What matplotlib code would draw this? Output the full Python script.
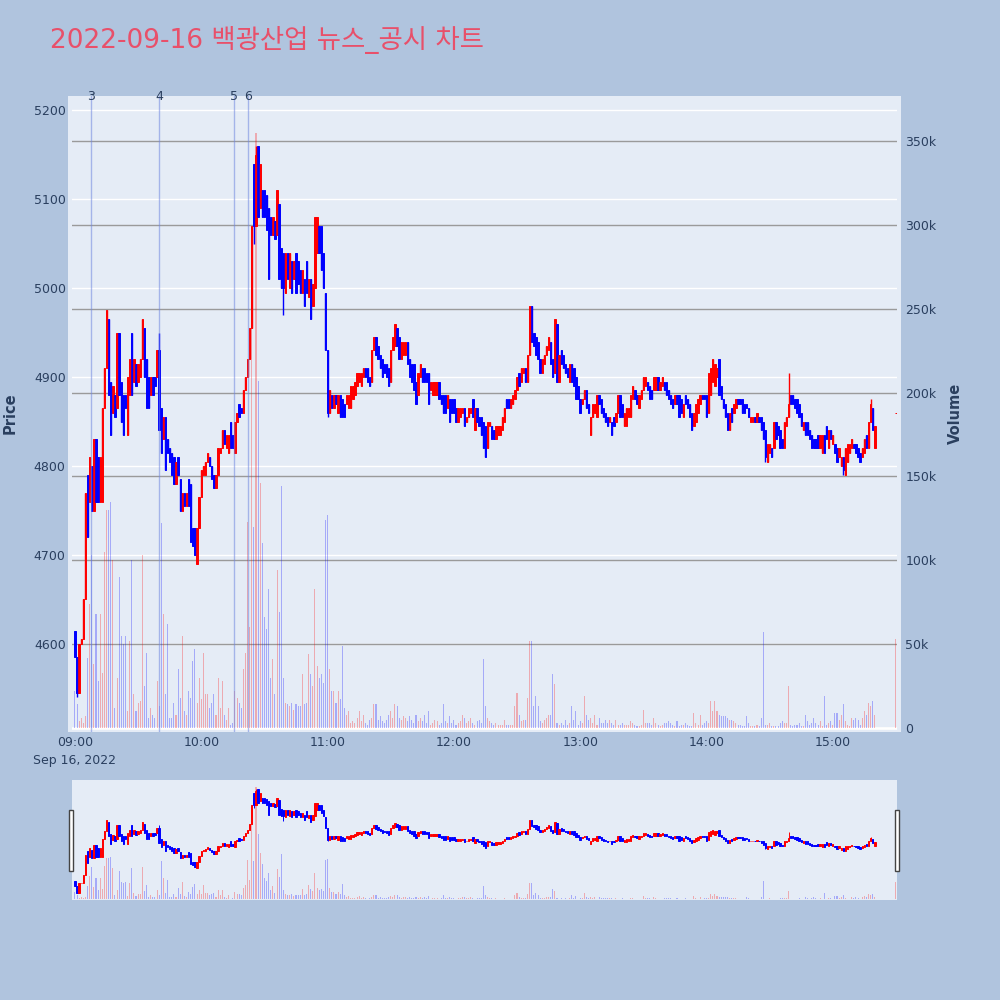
import matplotlib
matplotlib.use("Agg")
import matplotlib.pyplot as plt
from matplotlib.patches import Rectangle

plt.rcParams['font.family'] = ['DejaVu Sans', 'Noto Sans CJK KR']

# 1분봉: 09:00 ~ 15:20 + 15:30 종가 단일가
minutes = list(range(381)) + [390]

opens = [
    # 09:00 ~ 10:04
    4615, 4585, 4545, 4600, 4605, 4650, 4790, 4760, 4800, 4750,
    4830, 4810, 4760, 4760, 4865, 4910, 4965, 4895, 4860, 4880,
    4865, 4950, 4895, 4880, 4880, 4835, 4880, 4950, 4895, 4915,
    4895, 4900, 4920, 4955, 4920, 4900, 4880, 4900, 4900, 4900,
    4930, 4865, 4830, 4855, 4830, 4820, 4815, 4810, 4780, 4810,
    4785, 4750, 4770, 4755, 4785, 4780, 4730, 4730, 4690, 4730,
    4765, 4790, 4790, 4805, 4810,
    # 10:05 ~ 11:10
    4800, 4790, 4775, 4790, 4815, 4820, 4840, 4820, 4815, 4850,
    4835, 4815, 4850, 4870, 4865, 4860, 4885, 4900, 4920, 4955,
    5140, 5070, 5160, 5090, 5110, 5110, 5105, 5090, 5080, 5060,
    5075, 5060, 5095, 5045, 5040, 4995, 5040, 5000, 5030, 5010,
    5040, 5030, 5020, 4995, 5010, 5030, 4990, 5010, 4980, 5000,
    5040, 5070, 5070, 5040, 4995, 4930, 4860, 4880, 4865, 4880,
    4860, 4880, 4875, 4870, 4870, 4865,
    # 11:11 ~ 12:17
    4865, 4875, 4880, 4890, 4895, 4890, 4900, 4910, 4910, 4900,
    4895, 4930, 4945, 4935, 4925, 4920, 4915, 4915, 4910, 4895,
    4930, 4935, 4955, 4945, 4920, 4925, 4925, 4940, 4920, 4915,
    4915, 4895, 4880, 4900, 4910, 4910, 4905, 4905, 4885, 4880,
    4880, 4880, 4895, 4880, 4880, 4880, 4865, 4875, 4875, 4875,
    4865, 4850, 4855, 4860, 4865, 4850, 4855, 4860, 4875, 4840,
    4865, 4855, 4855, 4850, 4845, 4820, 4845,
    # 12:18 ~ 13:23
    4845, 4840, 4830, 4835, 4835, 4840, 4850, 4875, 4875, 4865,
    4870, 4875, 4885, 4905, 4895, 4905, 4910, 4895, 4925, 4980,
    4950, 4945, 4940, 4920, 4905, 4915, 4925, 4930, 4940, 4920,
    4905, 4960, 4895, 4930, 4925, 4915, 4910, 4895, 4915, 4910,
    4900, 4890, 4875, 4870, 4875, 4885, 4870, 4835, 4855, 4860,
    4855, 4880, 4875, 4865, 4860, 4855, 4850, 4850, 4855, 4850,
    4860, 4880, 4870, 4845, 4845, 4855,
    # 13:24 ~ 14:30
    4855, 4875, 4885, 4880, 4865, 4875, 4885, 4890, 4895, 4890,
    4885, 4885, 4885, 4900, 4885, 4890, 4895, 4895, 4885, 4880,
    4875, 4870, 4880, 4880, 4875, 4855, 4880, 4875, 4870, 4860,
    4845, 4850, 4860, 4870, 4880, 4880, 4880, 4860, 4880, 4895,
    4890, 4900, 4920, 4890, 4875, 4870, 4860, 4840, 4865, 4860,
    4865, 4875, 4875, 4875, 4870, 4870, 4865, 4850, 4850, 4855,
    4850, 4855, 4855, 4850, 4840, 4805, 4815,
    # 14:31 ~ 15:20
    4820, 4820, 4850, 4845, 4840, 4830, 4820, 4845, 4855, 4880,
    4880, 4875, 4875, 4870, 4860, 4840, 4850, 4850, 4840, 4835,
    4830, 4830, 4835, 4820, 4815, 4835, 4845, 4820, 4840, 4825,
    4825, 4820, 4810, 4800, 4810, 4790, 4805, 4815, 4820, 4825,
    4825, 4820, 4815, 4810, 4815, 4835, 4820, 4850, 4865, 4820,
    # 15:30
    4860,
]

closes = [
    4585, 4545, 4600, 4605, 4650, 4770, 4720, 4810, 4750, 4830,
    4760, 4760, 4810, 4865, 4910, 4975, 4880, 4835, 4890, 4855,
    4950, 4880, 4850, 4835, 4865, 4900, 4920, 4880, 4920, 4890,
    4915, 4920, 4965, 4900, 4865, 4865, 4900, 4880, 4890, 4930,
    4840, 4815, 4855, 4795, 4815, 4805, 4790, 4780, 4805, 4790,
    4750, 4770, 4755, 4770, 4755, 4715, 4710, 4700, 4730, 4765,
    4795, 4800, 4805, 4815, 4800,
    4785, 4775, 4790, 4820, 4820, 4840, 4825, 4835, 4835, 4820,
    4820, 4850, 4860, 4855, 4860, 4885, 4900, 4920, 4955, 5070,
    5070, 5150, 5080, 5140, 5080, 5080, 5065, 5010, 5060, 5080,
    5055, 5110, 5010, 5000, 5000, 5040, 5010, 5040, 4995, 5030,
    4995, 5005, 4995, 5020, 4980, 4995, 5010, 4965, 5005, 5080,
    5080, 5040, 5020, 5000, 4930, 4860, 4885, 4865, 4880, 4870,
    4880, 4855, 4855, 4855, 4880, 4880,
    4890, 4890, 4895, 4905, 4905, 4905, 4910, 4900, 4895, 4890,
    4930, 4945, 4925, 4920, 4910, 4900, 4905, 4900, 4890, 4930,
    4945, 4960, 4935, 4920, 4940, 4940, 4940, 4915, 4900, 4895,
    4885, 4870, 4905, 4915, 4895, 4895, 4895, 4870, 4895, 4895,
    4895, 4895, 4875, 4870, 4860, 4860, 4880, 4850, 4860, 4860,
    4850, 4865, 4865, 4865, 4845, 4855, 4865, 4865, 4855, 4865,
    4850, 4845, 4835, 4820, 4810, 4850, 4850,
    4830, 4830, 4845, 4845, 4845, 4855, 4865, 4865, 4865, 4875,
    4880, 4885, 4900, 4890, 4910, 4910, 4895, 4925, 4980, 4940,
    4935, 4925, 4920, 4905, 4920, 4925, 4935, 4945, 4915, 4900,
    4965, 4895, 4925, 4915, 4910, 4905, 4900, 4915, 4895, 4890,
    4875, 4875, 4860, 4875, 4885, 4865, 4860, 4855, 4870, 4870,
    4880, 4870, 4860, 4855, 4850, 4845, 4855, 4835, 4845, 4860,
    4880, 4855, 4855, 4860, 4865, 4865,
    4880, 4890, 4875, 4870, 4880, 4885, 4900, 4900, 4885, 4875,
    4875, 4900, 4900, 4885, 4895, 4900, 4885, 4880, 4875, 4870,
    4865, 4880, 4870, 4855, 4860, 4870, 4870, 4865, 4855, 4840,
    4860, 4870, 4875, 4880, 4875, 4875, 4855, 4905, 4910, 4920,
    4915, 4910, 4880, 4875, 4865, 4855, 4840, 4860, 4850, 4870,
    4875, 4870, 4870, 4860, 4860, 4865, 4855, 4855, 4855, 4850,
    4860, 4850, 4840, 4830, 4810, 4825, 4825,
    4810, 4850, 4830, 4835, 4820, 4820, 4850, 4855, 4870, 4870,
    4870, 4865, 4860, 4855, 4845, 4850, 4835, 4835, 4830, 4820,
    4820, 4820, 4820, 4835, 4835, 4815, 4830, 4840, 4830, 4835,
    4815, 4805, 4820, 4810, 4795, 4820, 4825, 4825, 4830, 4820,
    4815, 4810, 4805, 4820, 4830, 4820, 4850, 4870, 4840, 4845,
    4860,
]

# 거래량 (천 주)
volume_k = [
    22, 14, 4, 6, 3, 7, 42, 74, 103, 38,
    68, 28, 68, 33, 105, 130, 130, 135, 100, 12,
    30, 90, 55, 50, 55, 10, 52, 100, 20, 10,
    15, 16, 103, 25, 45, 6, 12, 8, 6, 28,
    13, 122, 68, 20, 62, 6, 6, 15, 8, 35,
    18, 55, 10, 8, 22, 18, 40, 47, 15, 30,
    17, 45, 20, 20, 12,
    15, 20, 8, 30, 12, 28, 8, 5, 12, 2,
    3, 22, 18, 15, 12, 35, 45, 123, 60, 285,
    120, 355, 207, 146, 110, 66, 59, 83, 30, 41,
    20, 94, 69, 144, 30, 15, 14, 13, 15, 11,
    14, 13, 13, 32, 14, 15, 44, 32, 25, 83,
    37, 30, 32, 27, 124, 127, 35, 22, 22, 15,
    22, 17, 49, 12, 8, 10,
    3, 4, 3, 6, 10, 4, 8, 3, 2, 5,
    6, 14, 14, 5, 7, 4, 3, 5, 8, 10,
    6, 14, 13, 6, 5, 7, 6, 4, 7, 5,
    3, 8, 4, 6, 4, 8, 3, 10, 2, 3,
    5, 4, 2, 3, 14, 4, 3, 7, 3, 5,
    2, 3, 4, 8, 6, 3, 4, 6, 3, 2,
    4, 5, 3, 41, 13, 6, 4,
    3, 2, 3, 2, 2, 2, 5, 2, 2, 2,
    2, 13, 21, 8, 4, 5, 5, 18, 52, 52,
    13, 19, 13, 4, 3, 5, 6, 8, 8, 32,
    26, 3, 2, 3, 2, 5, 2, 3, 13, 5,
    10, 2, 4, 3, 19, 8, 5, 6, 3, 8,
    2, 6, 3, 3, 5, 3, 5, 3, 2, 5,
    2, 2, 3, 2, 2, 2,
    4, 3, 2, 1, 1, 2, 11, 3, 3, 3,
    2, 6, 3, 2, 1, 2, 3, 3, 4, 3,
    2, 1, 4, 1, 2, 2, 3, 2, 1, 1,
    9, 3, 2, 8, 2, 3, 4, 3, 16, 10,
    16, 10, 8, 7, 7, 7, 6, 5, 5, 4,
    3, 2, 2, 1, 1, 7, 3, 1, 1, 1,
    2, 1, 6, 57, 2, 2, 3,
    1, 1, 1, 1, 3, 4, 3, 3, 25, 2,
    1, 2, 2, 3, 1, 1, 8, 4, 2, 3,
    6, 3, 2, 4, 1, 19, 2, 3, 4, 2,
    9, 9, 5, 8, 14, 4, 2, 1, 6, 5,
    6, 5, 2, 6, 10, 8, 15, 13, 16, 8,
    53,
]

# 꼬리가 몸통 밖으로 나온 봉 (분 인덱스: 가격)
wick_high = {40: 4950, 86: 5160, 96: 5110, 114: 5080, 216: 4980, 339: 4905, 378: 4875}
wick_low = {1: 4540, 85: 5050, 99: 4970, 120: 4855, 195: 4810, 328: 4805, 365: 4790}

# 뉴스/공시 시각
news_times = ["09:07:36", "09:40:00", "10:15:30", "10:22:00"]
news_labels = ["3", "4", "5", "6"]

UP = "#ff0000"
DOWN = "#0000ff"
TXT = "#2a3f5f"

colors = [UP if c >= o else DOWN for o, c in zip(opens, closes)]
highs = [wick_high.get(m, max(o, c)) for m, o, c in zip(minutes, opens, closes)]
lows = [wick_low.get(m, min(o, c)) for m, o, c in zip(minutes, opens, closes)]
bottoms = [min(o, c) for o, c in zip(opens, closes)]
heights = [abs(c - o) for o, c in zip(opens, closes)]
vol_colors = [(1, 0, 0, 0.28) if c == UP else (0, 0, 1, 0.28) for c in colors]


def to_min(s):
    h, m, sec = [int(v) for v in s.split(":")]
    return h * 60 + m + sec / 60 - 540


XLIM = (-1.4, 390.5)
PLIM = (4501, 5216)
VLIM = (-2.4, 376.8)

fig = plt.figure(figsize=(10, 10), dpi=100)
fig.patch.set_facecolor("#b0c4de")

main_rect = [0.072, 0.268, 0.825, 0.636]
slider_rect = [0.072, 0.100, 0.825, 0.120]

fig.add_artist(Rectangle((0.068, 0.268), 0.833, 0.636, transform=fig.transFigure,
                         facecolor="#e5ecf6", edgecolor="none", zorder=-10))

# grid / tick axes
ax_g = fig.add_axes(main_rect, facecolor="#e5ecf6")
ax_g.set_xlim(*XLIM)
ax_g.set_ylim(*PLIM)
ax_g.set_yticks(range(4600, 5201, 100))
ax_g.yaxis.grid(True, color="white", lw=1)
ax_g.set_axisbelow(True)
ax_g.set_xticks(range(0, 361, 60))
ax_g.set_xticklabels(["09:00\nSep 16, 2022", "10:00", "11:00", "12:00", "13:00", "14:00", "15:00"],
                     linespacing=1.45)
ax_g.tick_params(axis="x", length=0, pad=3, labelsize=9, labelcolor=TXT)
ax_g.tick_params(axis="y", length=0, pad=4.5, labelsize=9, labelcolor=TXT)
for lbl in ax_g.get_xticklabels():
    lbl.set_verticalalignment("top")
for sp in ax_g.spines.values():
    sp.set_visible(False)

ax_g2 = ax_g.twinx()
ax_g2.set_ylim(*VLIM)
ax_g2.set_yticks(range(0, 351, 50))
ax_g2.set_yticklabels(["0"] + [f"{v}k" for v in range(50, 351, 50)])
ax_g2.yaxis.grid(True, color="#9a9a9a", lw=1)
ax_g2.axhline(0, color="white", lw=2)
ax_g2.tick_params(axis="y", length=0, pad=6, labelsize=9, labelcolor=TXT)
for sp in ax_g2.spines.values():
    sp.set_visible(False)

# candles
ax_p = fig.add_axes(main_rect, sharex=ax_g)
ax_p.patch.set_visible(False)
ax_p.set_ylim(*PLIM)
ax_p.axis("off")
ax_p.vlines(minutes, lows, highs, colors=colors, linewidth=1.0)
ax_p.bar(minutes, heights, bottom=bottoms, width=0.65, color=colors, edgecolor=colors, linewidth=0.7)

# volume
ax_v = ax_p.twinx()
ax_v.set_ylim(*VLIM)
ax_v.axis("off")
ax_v.bar(minutes, volume_k, width=0.5, color=vol_colors, linewidth=0)

for t, lab in zip(news_times, news_labels):
    x = to_min(t)
    ax_v.axvline(x, color="#6f86e0", alpha=0.55, lw=1)
    ax_v.text(x, 1.0, lab, transform=ax_v.get_xaxis_transform(), ha="center", va="center",
              fontsize=9, color=TXT)
ax_v.set_xlim(*XLIM)

# range slider
ax_s = fig.add_axes(slider_rect, facecolor="#e5ecf6")
ax_s.set_xlim(*XLIM)
ax_s.set_ylim(*PLIM)
ax_s.set_xticks([])
ax_s.set_yticks([])
for sp in ax_s.spines.values():
    sp.set_visible(False)
ax_s.vlines(minutes, lows, highs, colors=colors, linewidth=0.7)
ax_s.bar(minutes, heights, bottom=bottoms, width=0.65, color=colors, edgecolor=colors, linewidth=0.7)
ax_s2 = ax_s.twinx()
ax_s2.set_ylim(*VLIM)
ax_s2.axis("off")
ax_s2.bar(minutes, volume_k, width=0.5, color=vol_colors, linewidth=0)
ax_s2.set_xlim(*XLIM)

for hx in (0.069, 0.895):
    fig.add_artist(Rectangle((hx, 0.129), 0.004, 0.061, transform=fig.transFigure,
                             facecolor="white", edgecolor="#444444", lw=1, zorder=5))

fig.text(0.05, 0.9595, "2022-09-16 백광산업 뉴스_공시 차트", fontsize=19, color="#e8506a",
         va="center", ha="left")
fig.text(0.010, 0.587, "Price", rotation=90, va="center", ha="center",
         fontsize=10.5, fontweight="bold", color=TXT)
fig.text(0.955, 0.587, "Volume", rotation=90, va="center", ha="center",
         fontsize=10.5, fontweight="bold", color=TXT)

fig.savefig("out.png", dpi=100, facecolor=fig.get_facecolor())
